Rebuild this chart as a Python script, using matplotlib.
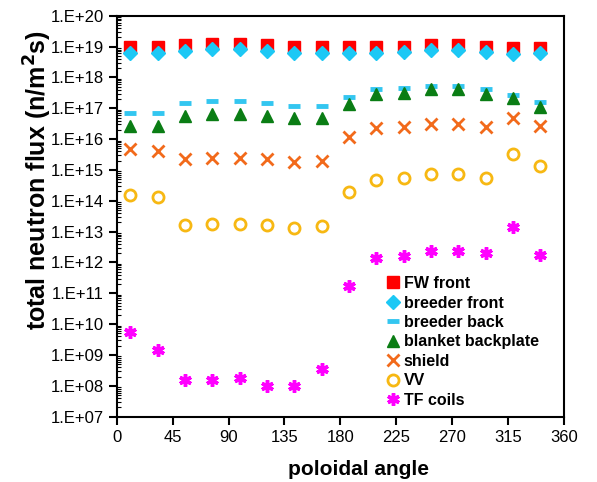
import matplotlib.pyplot as plt
import numpy as np
from matplotlib.ticker import FuncFormatter, LogLocator, FixedLocator

plt.rcParams['font.family'] = ['Liberation Sans', 'DejaVu Sans']

angle = [11, 33, 55, 77, 99, 121, 143, 165, 187, 209, 231, 253, 275, 297, 319, 341]

fw_front = [9.5e18, 9.5e18, 1.1e19, 1.2e19, 1.2e19, 1.1e19, 9.5e18, 9.5e18, 9.5e18,
            9.5e18, 9.5e18, 1.1e19, 1.1e19, 9.5e18, 8.7e18, 8.7e18]
breeder_front = [6.0e18, 6.0e18, 7.3e18, 8.1e18, 8.1e18, 7.3e18, 6.3e18, 6.0e18, 6.3e18,
                 6.0e18, 6.8e18, 7.7e18, 7.7e18, 6.8e18, 5.7e18, 6.0e18]
breeder_back = [6.8e16, 6.8e16, 1.44e17, 1.7e17, 1.7e17, 1.44e17, 1.17e17, 1.17e17, 2.3e17,
                4.1e17, 4.4e17, 5.2e17, 5.2e17, 4.1e17, 2.7e17, 1.6e17]
backplate = [2.6e16, 2.6e16, 5.5e16, 6.4e16, 6.4e16, 5.5e16, 4.7e16, 4.7e16, 1.4e17,
             2.8e17, 3.2e17, 4.1e17, 4.1e17, 3.0e17, 2.1e17, 1.07e17]
shield = [4.6e15, 4.1e15, 2.2e15, 2.5e15, 2.5e15, 2.2e15, 1.8e15, 2.0e15, 1.2e16,
          2.3e16, 2.5e16, 3.2e16, 3.2e16, 2.5e16, 5.0e16, 2.6e16]
vv = [1.5e14, 1.3e14, 1.7e13, 1.8e13, 1.8e13, 1.6e13, 1.3e13, 1.5e13, 1.9e14,
      4.7e14, 5.3e14, 7.2e14, 7.2e14, 5.3e14, 3.4e15, 1.35e15]
tf_coils = [5.5e9, 1.5e9, 1.55e8, 1.6e8, 1.8e8, 1.0e8, 1.0e8, 3.5e8, 1.7e11,
            1.4e12, 1.6e12, 2.35e12, 2.35e12, 2.0e12, 1.4e13, 1.8e12]

fig = plt.figure(figsize=(5.97, 4.82), dpi=100)
ax = fig.add_axes([0.1955, 0.1355, 0.7492, 0.8319])

ax.plot(angle, fw_front, 's', color='#ff0000', ms=8.5, ls='none', label='FW front')
ax.plot(angle, breeder_front, 'D', color='#1cc8f5', ms=7, ls='none', label='breeder front')
ax.plot(angle, breeder_back, '_', color='#33c6f0', ms=9, mew=3.5, ls='none', label='breeder back')
ax.plot(angle, backplate, '^', color='#0a7d14', ms=9, ls='none', label='blanket backplate')
ax.plot(angle, shield, 'x', color='#f26a1b', ms=8, mew=2, ls='none', label='shield')
ax.plot(angle, vv, 'o', mfc='none', mec='#f7b813', ms=8, mew=2, ls='none', label='VV')
ax.plot(angle, tf_coils, marker=(6, 2, 0), color='#ff00ff', ms=9, mew=2.5, ls='none', label='TF coils')

ax.set_yscale('log')
ax.set_ylim(1e7, 1e20)
ax.set_xlim(0, 360)
ax.xaxis.set_major_locator(FixedLocator(np.arange(0, 361, 45)))
ax.yaxis.set_major_locator(LogLocator(base=10, numticks=20))
ax.yaxis.set_minor_locator(LogLocator(base=10, subs=np.arange(2, 10), numticks=20))
ax.yaxis.set_major_formatter(FuncFormatter(lambda v, _: '1.E+%02d' % int(round(np.log10(v)))))

ax.tick_params(axis='both', which='major', direction='out', length=6, width=1.5, labelsize=12)
ax.tick_params(axis='y', which='minor', direction='in', length=3, width=0.8)
ax.tick_params(top=False, right=False)
for s in ax.spines.values():
    s.set_linewidth(1.5)

ax.set_xlabel('poloidal angle', fontsize=15, fontweight='bold')
ax.xaxis.set_label_coords(0.541, -0.108)
ax.set_ylabel('total neutron flux (n/m$^\\mathbf{2}$s)', fontsize=18, fontweight='bold')
ax.yaxis.set_label_coords(-0.14, 0.59)

ax.legend(loc='lower right', bbox_to_anchor=(0.965, -0.002), frameon=False,
          prop={'weight': 'bold', 'size': 11.5}, handlelength=0.8, handletextpad=0.3,
          labelspacing=0.28, borderaxespad=0.2)

plt.savefig('out.png', dpi=100)
